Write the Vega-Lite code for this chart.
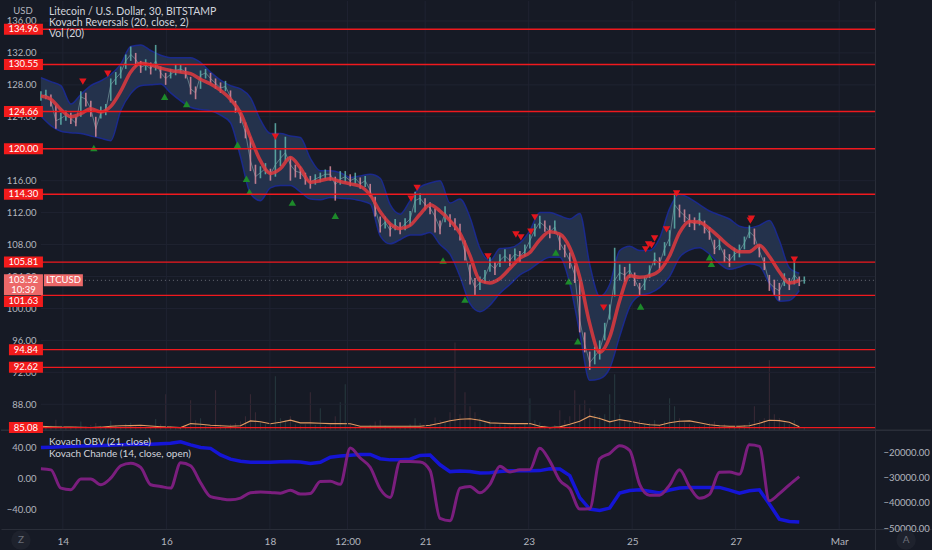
{
  "$schema": "https://vega.github.io/schema/vega-lite/v6.json",
  "width": 932,
  "height": 550,
  "autosize": {"type": "fit", "contains": "padding"},
  "padding": 0,
  "background": "#161a25",
  "config": {
    "view": {"stroke": null},
    "font": "Lato",
    "axis": {"labelFont": "Lato", "labelColor": "#b2b5be", "labelFontSize": 9.5, "domain": false, "ticks": false, "tickSize": 0, "grid": false, "minExtent": 0}
  },
  "datasets": {
    "candles": [
      {"d":13.576,"c":126.5,"lo":126.0,"hi":127.2,"u":1,"v":1500},
      {"d":13.672,"c":126.8,"lo":126.2,"hi":127.4,"u":1,"v":900},
      {"d":13.769,"c":126.0,"lo":125.3,"hi":126.8,"u":0,"v":1200},
      {"d":13.865,"c":123.5,"lo":122.5,"hi":125.5,"u":0,"v":2600},
      {"d":13.962,"c":123.8,"lo":123.0,"hi":124.5,"u":1,"v":1100},
      {"d":14.058,"c":124.2,"lo":123.5,"hi":124.8,"u":1,"v":800},
      {"d":14.154,"c":123.8,"lo":123.1,"hi":124.5,"u":0,"v":700},
      {"d":14.251,"c":123.2,"lo":122.8,"hi":124.0,"u":0,"v":900},
      {"d":14.347,"c":126.5,"lo":124.0,"hi":127.2,"u":1,"v":2200},
      {"d":14.444,"c":126.2,"lo":125.3,"hi":127.0,"u":0,"v":1000},
      {"d":14.540,"c":125.0,"lo":124.0,"hi":126.0,"u":0,"v":1300},
      {"d":14.636,"c":122.5,"lo":121.5,"hi":124.0,"u":0,"v":1800},
      {"d":14.733,"c":124.5,"lo":123.8,"hi":125.3,"u":1,"v":1100},
      {"d":14.829,"c":124.8,"lo":124.2,"hi":125.6,"u":1,"v":700},
      {"d":14.925,"c":128.0,"lo":126.0,"hi":128.8,"u":1,"v":2400},
      {"d":15.022,"c":128.8,"lo":128.0,"hi":129.6,"u":1,"v":1300},
      {"d":15.118,"c":129.5,"lo":128.8,"hi":130.3,"u":1,"v":1000},
      {"d":15.215,"c":131.0,"lo":130.0,"hi":131.8,"u":1,"v":1600},
      {"d":15.311,"c":131.8,"lo":131.0,"hi":132.8,"u":1,"v":1900},
      {"d":15.407,"c":131.2,"lo":130.3,"hi":132.0,"u":0,"v":1200},
      {"d":15.504,"c":130.2,"lo":129.5,"hi":131.0,"u":0,"v":1100},
      {"d":15.600,"c":130.5,"lo":129.8,"hi":131.2,"u":1,"v":800},
      {"d":15.697,"c":130.0,"lo":129.3,"hi":130.8,"u":0,"v":900},
      {"d":15.793,"c":131.0,"lo":129.8,"hi":133.0,"u":1,"v":2800},
      {"d":15.889,"c":129.5,"lo":128.8,"hi":130.3,"u":0,"v":1500},
      {"d":15.986,"c":128.8,"lo":128.0,"hi":129.5,"u":0,"v":9000},
      {"d":16.082,"c":129.3,"lo":128.8,"hi":130.0,"u":1,"v":1000},
      {"d":16.179,"c":129.8,"lo":129.2,"hi":130.5,"u":1,"v":800},
      {"d":16.275,"c":130.0,"lo":129.5,"hi":130.6,"u":1,"v":700},
      {"d":16.371,"c":129.6,"lo":128.8,"hi":130.2,"u":0,"v":1200},
      {"d":16.468,"c":127.5,"lo":126.8,"hi":129.0,"u":0,"v":7500},
      {"d":16.564,"c":127.0,"lo":126.2,"hi":127.8,"u":0,"v":2500},
      {"d":16.660,"c":129.2,"lo":127.5,"hi":129.8,"u":1,"v":3000},
      {"d":16.757,"c":129.5,"lo":128.8,"hi":130.0,"u":1,"v":1200},
      {"d":16.853,"c":128.8,"lo":128.2,"hi":129.5,"u":0,"v":1000},
      {"d":16.950,"c":128.2,"lo":127.5,"hi":128.8,"u":0,"v":10000},
      {"d":17.046,"c":127.6,"lo":127.0,"hi":128.3,"u":0,"v":1400},
      {"d":17.142,"c":127.8,"lo":127.2,"hi":128.5,"u":1,"v":900},
      {"d":17.239,"c":126.5,"lo":125.8,"hi":127.3,"u":0,"v":1500},
      {"d":17.335,"c":125.2,"lo":124.5,"hi":126.0,"u":0,"v":1800},
      {"d":17.432,"c":124.0,"lo":123.2,"hi":124.8,"u":0,"v":2200},
      {"d":17.528,"c":122.0,"lo":121.3,"hi":123.3,"u":0,"v":3500},
      {"d":17.624,"c":118.5,"lo":117.2,"hi":121.5,"u":0,"v":9000},
      {"d":17.721,"c":116.5,"lo":115.6,"hi":118.0,"u":0,"v":4500},
      {"d":17.817,"c":117.0,"lo":116.3,"hi":117.8,"u":1,"v":2000},
      {"d":17.914,"c":117.5,"lo":116.8,"hi":118.2,"u":1,"v":1500},
      {"d":18.010,"c":116.8,"lo":116.0,"hi":117.5,"u":0,"v":1800},
      {"d":18.106,"c":118.0,"lo":116.5,"hi":123.2,"u":1,"v":13500},
      {"d":18.203,"c":118.8,"lo":117.8,"hi":119.8,"u":1,"v":3000},
      {"d":18.299,"c":119.5,"lo":118.5,"hi":121.5,"u":1,"v":2500},
      {"d":18.396,"c":118.0,"lo":116.0,"hi":119.0,"u":0,"v":3500},
      {"d":18.492,"c":117.2,"lo":116.4,"hi":118.0,"u":0,"v":1500},
      {"d":18.588,"c":117.0,"lo":116.2,"hi":117.8,"u":0,"v":1200},
      {"d":18.685,"c":116.2,"lo":115.5,"hi":117.0,"u":0,"v":1500},
      {"d":18.781,"c":115.8,"lo":115.0,"hi":116.6,"u":0,"v":9500},
      {"d":18.877,"c":116.2,"lo":115.5,"hi":116.8,"u":1,"v":1300},
      {"d":18.974,"c":116.5,"lo":115.8,"hi":117.0,"u":1,"v":5500},
      {"d":19.070,"c":116.8,"lo":116.2,"hi":117.4,"u":1,"v":1100},
      {"d":19.167,"c":116.8,"lo":116.0,"hi":117.8,"u":0,"v":1400},
      {"d":19.263,"c":115.5,"lo":113.5,"hi":116.5,"u":0,"v":3500},
      {"d":19.359,"c":116.2,"lo":115.5,"hi":117.2,"u":1,"v":7000},
      {"d":19.456,"c":116.5,"lo":115.8,"hi":117.2,"u":1,"v":11500},
      {"d":19.552,"c":116.0,"lo":115.3,"hi":116.8,"u":0,"v":1500},
      {"d":19.649,"c":116.3,"lo":115.6,"hi":117.0,"u":1,"v":1000},
      {"d":19.745,"c":115.6,"lo":115.0,"hi":116.4,"u":0,"v":900},
      {"d":19.841,"c":116.0,"lo":115.2,"hi":116.6,"u":1,"v":800},
      {"d":19.938,"c":114.8,"lo":114.0,"hi":115.6,"u":0,"v":1400},
      {"d":20.034,"c":112.5,"lo":111.5,"hi":114.0,"u":0,"v":2200},
      {"d":20.131,"c":110.2,"lo":109.5,"hi":111.5,"u":0,"v":2500},
      {"d":20.227,"c":110.8,"lo":110.0,"hi":111.5,"u":1,"v":1200},
      {"d":20.323,"c":109.8,"lo":109.0,"hi":110.6,"u":0,"v":1000},
      {"d":20.420,"c":110.5,"lo":109.8,"hi":111.2,"u":1,"v":800},
      {"d":20.516,"c":110.0,"lo":109.3,"hi":110.8,"u":0,"v":700},
      {"d":20.612,"c":110.6,"lo":109.8,"hi":111.3,"u":1,"v":900},
      {"d":20.709,"c":111.2,"lo":110.3,"hi":112.2,"u":1,"v":1500},
      {"d":20.805,"c":113.5,"lo":112.0,"hi":114.6,"u":1,"v":3000},
      {"d":20.902,"c":113.8,"lo":113.0,"hi":114.4,"u":1,"v":1800},
      {"d":20.998,"c":113.0,"lo":112.3,"hi":113.8,"u":0,"v":1200},
      {"d":21.094,"c":112.6,"lo":111.8,"hi":113.3,"u":0,"v":1500},
      {"d":21.191,"c":111.5,"lo":109.5,"hi":112.5,"u":0,"v":3200},
      {"d":21.287,"c":110.0,"lo":109.3,"hi":111.0,"u":0,"v":2500},
      {"d":21.384,"c":112.0,"lo":110.8,"hi":112.8,"u":1,"v":2000},
      {"d":21.480,"c":111.0,"lo":110.2,"hi":111.8,"u":0,"v":4500},
      {"d":21.576,"c":110.5,"lo":109.8,"hi":111.3,"u":0,"v":22000},
      {"d":21.673,"c":109.5,"lo":108.5,"hi":110.6,"u":0,"v":4000},
      {"d":21.769,"c":107.0,"lo":106.0,"hi":108.5,"u":0,"v":9500},
      {"d":21.866,"c":104.2,"lo":103.0,"hi":105.5,"u":0,"v":6000},
      {"d":21.962,"c":102.6,"lo":101.6,"hi":103.8,"u":0,"v":4500},
      {"d":22.058,"c":103.2,"lo":102.3,"hi":104.0,"u":1,"v":3000},
      {"d":22.155,"c":104.0,"lo":103.2,"hi":104.8,"u":1,"v":2000},
      {"d":22.251,"c":105.5,"lo":104.6,"hi":106.4,"u":1,"v":2500},
      {"d":22.348,"c":105.0,"lo":104.2,"hi":105.8,"u":0,"v":1500},
      {"d":22.444,"c":106.0,"lo":105.2,"hi":106.8,"u":1,"v":1800},
      {"d":22.541,"c":106.6,"lo":105.8,"hi":107.4,"u":1,"v":1500},
      {"d":22.637,"c":106.0,"lo":105.3,"hi":106.8,"u":0,"v":1200},
      {"d":22.733,"c":106.8,"lo":106.0,"hi":107.5,"u":1,"v":1400},
      {"d":22.830,"c":106.5,"lo":105.8,"hi":107.2,"u":0,"v":1000},
      {"d":22.926,"c":107.2,"lo":106.5,"hi":108.0,"u":1,"v":1500},
      {"d":23.023,"c":108.5,"lo":107.5,"hi":109.3,"u":1,"v":8000},
      {"d":23.119,"c":109.8,"lo":109.0,"hi":110.6,"u":1,"v":2500},
      {"d":23.215,"c":110.8,"lo":110.0,"hi":111.6,"u":1,"v":2000},
      {"d":23.312,"c":110.3,"lo":109.6,"hi":111.0,"u":0,"v":1200},
      {"d":23.408,"c":109.6,"lo":108.8,"hi":110.4,"u":0,"v":1000},
      {"d":23.505,"c":110.2,"lo":109.4,"hi":111.0,"u":1,"v":1300},
      {"d":23.601,"c":108.2,"lo":107.3,"hi":109.2,"u":0,"v":5000},
      {"d":23.697,"c":107.2,"lo":106.4,"hi":108.0,"u":0,"v":2500},
      {"d":23.794,"c":106.0,"lo":105.0,"hi":107.0,"u":0,"v":3500},
      {"d":23.890,"c":104.2,"lo":103.2,"hi":105.4,"u":0,"v":10000},
      {"d":23.986,"c":98.5,"lo":97.0,"hi":103.5,"u":0,"v":6500},
      {"d":24.083,"c":95.5,"lo":94.5,"hi":97.0,"u":0,"v":7500},
      {"d":24.179,"c":93.2,"lo":92.3,"hi":94.6,"u":0,"v":5500},
      {"d":24.276,"c":94.0,"lo":93.0,"hi":95.2,"u":1,"v":4000},
      {"d":24.372,"c":94.8,"lo":93.6,"hi":96.0,"u":1,"v":3500},
      {"d":24.469,"c":97.0,"lo":96.0,"hi":98.2,"u":1,"v":4000},
      {"d":24.565,"c":99.5,"lo":98.6,"hi":100.5,"u":1,"v":9000},
      {"d":24.661,"c":103.5,"lo":101.5,"hi":107.6,"u":1,"v":14000},
      {"d":24.758,"c":104.5,"lo":103.5,"hi":105.5,"u":1,"v":4000},
      {"d":24.854,"c":104.2,"lo":103.3,"hi":105.2,"u":0,"v":2500},
      {"d":24.951,"c":104.8,"lo":103.8,"hi":105.6,"u":1,"v":2000},
      {"d":25.047,"c":103.6,"lo":102.8,"hi":104.5,"u":0,"v":1800},
      {"d":25.143,"c":102.3,"lo":101.6,"hi":103.2,"u":0,"v":2500},
      {"d":25.240,"c":103.2,"lo":102.3,"hi":104.0,"u":1,"v":1500},
      {"d":25.336,"c":104.6,"lo":103.8,"hi":105.4,"u":1,"v":1800},
      {"d":25.433,"c":106.2,"lo":105.4,"hi":107.0,"u":1,"v":2500},
      {"d":25.529,"c":105.6,"lo":104.8,"hi":106.4,"u":0,"v":1300},
      {"d":25.625,"c":107.5,"lo":106.6,"hi":108.3,"u":1,"v":2200},
      {"d":25.722,"c":108.8,"lo":107.8,"hi":109.8,"u":1,"v":8000},
      {"d":25.818,"c":113.0,"lo":110.0,"hi":114.4,"u":1,"v":6000},
      {"d":25.914,"c":112.2,"lo":111.4,"hi":113.0,"u":0,"v":3000},
      {"d":26.011,"c":111.6,"lo":110.8,"hi":112.4,"u":0,"v":2000},
      {"d":26.107,"c":111.0,"lo":110.2,"hi":111.8,"u":0,"v":1500},
      {"d":26.204,"c":110.6,"lo":109.8,"hi":111.4,"u":0,"v":1200},
      {"d":26.300,"c":111.2,"lo":110.4,"hi":112.0,"u":1,"v":1000},
      {"d":26.397,"c":110.2,"lo":109.4,"hi":111.0,"u":0,"v":1400},
      {"d":26.493,"c":109.4,"lo":108.6,"hi":110.2,"u":0,"v":1800},
      {"d":26.589,"c":107.4,"lo":106.8,"hi":108.6,"u":0,"v":2200},
      {"d":26.686,"c":108.0,"lo":107.3,"hi":108.8,"u":1,"v":1200},
      {"d":26.782,"c":106.6,"lo":105.8,"hi":107.4,"u":0,"v":1500},
      {"d":26.879,"c":106.0,"lo":105.2,"hi":106.8,"u":0,"v":1000},
      {"d":26.975,"c":106.8,"lo":106.0,"hi":107.6,"u":1,"v":900},
      {"d":27.071,"c":107.2,"lo":106.4,"hi":108.0,"u":1,"v":1100},
      {"d":27.168,"c":108.2,"lo":107.4,"hi":109.0,"u":1,"v":1300},
      {"d":27.264,"c":109.6,"lo":108.8,"hi":110.4,"u":1,"v":2000},
      {"d":27.361,"c":109.0,"lo":108.0,"hi":110.0,"u":0,"v":6000},
      {"d":27.457,"c":107.2,"lo":106.4,"hi":108.0,"u":0,"v":2500},
      {"d":27.553,"c":105.6,"lo":104.8,"hi":106.4,"u":0,"v":3000},
      {"d":27.650,"c":103.2,"lo":102.2,"hi":104.2,"u":0,"v":17500},
      {"d":27.746,"c":102.6,"lo":101.6,"hi":103.6,"u":0,"v":4000},
      {"d":27.843,"c":102.2,"lo":101.0,"hi":103.2,"u":0,"v":3000},
      {"d":27.939,"c":103.6,"lo":102.8,"hi":104.4,"u":1,"v":2000},
      {"d":28.035,"c":103.0,"lo":102.3,"hi":103.8,"u":0,"v":1500},
      {"d":28.132,"c":104.2,"lo":103.0,"hi":106.2,"u":1,"v":2500},
      {"d":28.228,"c":103.4,"lo":102.8,"hi":104.0,"u":0,"v":1000},
      {"d":28.325,"c":103.5,"lo":103.1,"hi":104.0,"u":1,"v":600}
    ],
    "ind": [
      {"d":13.576,"ma":126.6,"bu":128.9,"bl":124.1,"ch":12,"obv":-18150,"vm":1000},
      {"d":13.769,"ma":126.2,"bu":128.4,"bl":122.9,"ch":10.7,"obv":-18050,"vm":875},
      {"d":13.962,"ma":124.9,"bu":127.9,"bl":122.2,"ch":-13,"obv":-17900,"vm":750},
      {"d":14.154,"ma":124.0,"bu":125.6,"bl":122.0,"ch":-15,"obv":-17700,"vm":750},
      {"d":14.347,"ma":124.4,"bu":126.8,"bl":121.9,"ch":-1,"obv":-17600,"vm":700},
      {"d":14.540,"ma":125.0,"bu":127.9,"bl":121.6,"ch":-1,"obv":-17450,"vm":675},
      {"d":14.733,"ma":124.6,"bu":128.5,"bl":121.3,"ch":-8.6,"obv":-17366,"vm":750},
      {"d":14.925,"ma":125.3,"bu":129.3,"bl":121.0,"ch":0,"obv":-17250,"vm":1000},
      {"d":15.118,"ma":127.2,"bu":130.6,"bl":124.75,"ch":16,"obv":-17100,"vm":1125},
      {"d":15.311,"ma":129.6,"bu":132.8,"bl":126.9,"ch":19.4,"obv":-17000,"vm":1175},
      {"d":15.504,"ma":130.7,"bu":133.0,"bl":127.9,"ch":14,"obv":-16900,"vm":1250},
      {"d":15.697,"ma":130.5,"bu":132.3,"bl":128.0,"ch":-8.6,"obv":-16853,"vm":1050},
      {"d":15.889,"ma":130.1,"bu":131.7,"bl":128.1,"ch":-10.8,"obv":-16650,"vm":875},
      {"d":16.082,"ma":129.8,"bu":131.4,"bl":127.0,"ch":-12.9,"obv":-16459,"vm":750},
      {"d":16.275,"ma":129.6,"bu":131.4,"bl":126.0,"ch":20,"obv":-15900,"vm":675},
      {"d":16.468,"ma":129.4,"bu":131.4,"bl":125.2,"ch":16,"obv":-17130,"vm":1675},
      {"d":16.660,"ma":128.7,"bu":130.8,"bl":124.9,"ch":-6,"obv":-18156,"vm":1500},
      {"d":16.853,"ma":128.1,"bu":129.6,"bl":124.75,"ch":-24,"obv":-18500,"vm":1250},
      {"d":17.046,"ma":127.3,"bu":128.6,"bl":124.2,"ch":-26.5,"obv":-21078,"vm":1125},
      {"d":17.239,"ma":126.2,"bu":127.9,"bl":123.25,"ch":-28,"obv":-22775,"vm":1000},
      {"d":17.432,"ma":124.5,"bu":127.5,"bl":119.0,"ch":-25.8,"obv":-23600,"vm":1125},
      {"d":17.624,"ma":121.4,"bu":126.4,"bl":114.4,"ch":-19,"obv":-23960,"vm":2325},
      {"d":17.817,"ma":118.5,"bu":123.6,"bl":113.5,"ch":-18,"obv":-23960,"vm":2125},
      {"d":18.010,"ma":116.9,"bu":121.9,"bl":115.1,"ch":-18.5,"obv":-23950,"vm":1625},
      {"d":18.203,"ma":117.5,"bu":121.9,"bl":115.4,"ch":-19.5,"obv":-23800,"vm":2000},
      {"d":18.396,"ma":118.9,"bu":121.6,"bl":115.4,"ch":-15.5,"obv":-23700,"vm":2500},
      {"d":18.588,"ma":117.6,"bu":121.4,"bl":114.6,"ch":-20.6,"obv":-23900,"vm":1825},
      {"d":18.781,"ma":115.8,"bu":118.8,"bl":113.7,"ch":-19.8,"obv":-24500,"vm":1825},
      {"d":18.974,"ma":116.0,"bu":117.25,"bl":113.6,"ch":-4.3,"obv":-24000,"vm":1750},
      {"d":19.167,"ma":116.25,"bu":117.25,"bl":113.9,"ch":-4,"obv":-22000,"vm":1675},
      {"d":19.359,"ma":115.9,"bu":117.0,"bl":113.8,"ch":-8,"obv":-21500,"vm":1675},
      {"d":19.552,"ma":115.6,"bu":116.4,"bl":113.75,"ch":39,"obv":-21250,"vm":1625},
      {"d":19.745,"ma":115.3,"bu":116.6,"bl":113.5,"ch":26,"obv":-20950,"vm":1000},
      {"d":19.938,"ma":114.2,"bu":116.8,"bl":113.1,"ch":14,"obv":-20900,"vm":1000},
      {"d":20.131,"ma":112.1,"bu":116.3,"bl":109.1,"ch":-14,"obv":-22600,"vm":1000},
      {"d":20.323,"ma":110.6,"bu":113.0,"bl":108.1,"ch":-25,"obv":-23052,"vm":1000},
      {"d":20.516,"ma":110.0,"bu":111.8,"bl":108.6,"ch":21.5,"obv":-23052,"vm":1000},
      {"d":20.709,"ma":110.4,"bu":113.5,"bl":109.2,"ch":21.5,"obv":-22800,"vm":1000},
      {"d":20.902,"ma":111.8,"bu":115.2,"bl":109.2,"ch":21,"obv":-21315,"vm":1000},
      {"d":21.094,"ma":113.0,"bu":115.7,"bl":109.5,"ch":10,"obv":-21100,"vm":1250},
      {"d":21.287,"ma":112.2,"bu":116.0,"bl":108.0,"ch":-52,"obv":-25000,"vm":1750},
      {"d":21.480,"ma":111.0,"bu":113.2,"bl":106.8,"ch":-55,"obv":-27700,"vm":2375},
      {"d":21.673,"ma":109.4,"bu":113.7,"bl":104.0,"ch":-13,"obv":-27500,"vm":2750},
      {"d":21.866,"ma":106.6,"bu":111.4,"bl":100.6,"ch":-10.8,"obv":-27631,"vm":2875},
      {"d":22.058,"ma":103.5,"bu":107.5,"bl":99.6,"ch":-19,"obv":-28200,"vm":2500},
      {"d":22.251,"ma":103.2,"bu":106.0,"bl":100.4,"ch":-8,"obv":-28100,"vm":1825},
      {"d":22.444,"ma":103.75,"bu":107.5,"bl":101.9,"ch":15.5,"obv":-27700,"vm":1750},
      {"d":22.637,"ma":105.0,"bu":107.6,"bl":103.0,"ch":8,"obv":-27400,"vm":1675},
      {"d":22.830,"ma":106.3,"bu":108.2,"bl":104.2,"ch":10.7,"obv":-27394,"vm":1675},
      {"d":23.023,"ma":107.0,"bu":109.75,"bl":104.9,"ch":11,"obv":-27394,"vm":1675},
      {"d":23.215,"ma":108.6,"bu":112.0,"bl":105.8,"ch":38.7,"obv":-27300,"vm":1000},
      {"d":23.408,"ma":109.6,"bu":112.0,"bl":106.4,"ch":22,"obv":-26605,"vm":675},
      {"d":23.601,"ma":109.3,"bu":111.6,"bl":106.4,"ch":-3,"obv":-26700,"vm":825},
      {"d":23.794,"ma":107.6,"bu":111.2,"bl":103.1,"ch":-14,"obv":-29300,"vm":1500},
      {"d":23.986,"ma":103.9,"bu":111.9,"bl":97.0,"ch":-40,"obv":-38000,"vm":2250},
      {"d":24.179,"ma":98.1,"bu":105.5,"bl":91.0,"ch":-39.5,"obv":-42500,"vm":3500},
      {"d":24.372,"ma":94.5,"bu":101.5,"bl":91.2,"ch":25,"obv":-43100,"vm":2925},
      {"d":24.565,"ma":96.4,"bu":103.0,"bl":92.5,"ch":32,"obv":-42120,"vm":2075},
      {"d":24.758,"ma":101.0,"bu":107.25,"bl":96.5,"ch":42,"obv":-36200,"vm":2675},
      {"d":24.951,"ma":104.1,"bu":107.8,"bl":100.2,"ch":36,"obv":-35200,"vm":2250},
      {"d":25.143,"ma":103.9,"bu":107.25,"bl":101.6,"ch":-8,"obv":-34895,"vm":1750},
      {"d":25.336,"ma":104.1,"bu":107.25,"bl":101.9,"ch":-22,"obv":-35500,"vm":1375},
      {"d":25.529,"ma":104.75,"bu":108.8,"bl":102.6,"ch":-22,"obv":-36100,"vm":1250},
      {"d":25.722,"ma":106.6,"bu":112.5,"bl":104.0,"ch":-9,"obv":-35000,"vm":1875},
      {"d":25.914,"ma":109.5,"bu":114.3,"bl":106.4,"ch":10.7,"obv":-34200,"vm":2250},
      {"d":26.107,"ma":110.9,"bu":113.8,"bl":107.3,"ch":-11,"obv":-33950,"vm":2325},
      {"d":26.300,"ma":110.8,"bu":113.0,"bl":107.6,"ch":-26,"obv":-33948,"vm":1875},
      {"d":26.493,"ma":110.0,"bu":112.2,"bl":106.8,"ch":-21,"obv":-33948,"vm":1375},
      {"d":26.686,"ma":108.9,"bu":111.7,"bl":105.6,"ch":7.5,"obv":-33948,"vm":1125},
      {"d":26.879,"ma":107.8,"bu":111.2,"bl":104.9,"ch":8,"obv":-35000,"vm":1000},
      {"d":27.071,"ma":107.1,"bu":110.3,"bl":105.2,"ch":5,"obv":-36200,"vm":1000},
      {"d":27.264,"ma":107.1,"bu":110.1,"bl":105.6,"ch":43,"obv":-35300,"vm":1125},
      {"d":27.457,"ma":107.9,"bu":110.4,"bl":105.3,"ch":41,"obv":-34895,"vm":1750},
      {"d":27.650,"ma":106.5,"bu":111.0,"bl":103.1,"ch":-29.3,"obv":-40500,"vm":2500},
      {"d":27.843,"ma":104.6,"bu":108.5,"bl":100.9,"ch":-20,"obv":-46500,"vm":2425},
      {"d":28.035,"ma":103.2,"bu":105.1,"bl":101.0,"ch":-8.6,"obv":-47400,"vm":2000},
      {"d":28.228,"ma":103.5,"bu":104.4,"bl":102.25,"ch":2,"obv":-47647,"vm":875}
    ],
    "sig": [
      {"d":14.386,"p":128.4,"t":"dn"},{"d":14.868,"p":129.4,"t":"dn"},{"d":18.106,"p":121.5,"t":"dn"},
      {"d":20.728,"p":113.75,"t":"dn"},{"d":20.844,"p":115.1,"t":"dn"},{"d":22.213,"p":106.5,"t":"dn"},
      {"d":22.753,"p":109.25,"t":"dn"},{"d":22.849,"p":108.9,"t":"dn"},{"d":23.042,"p":109.6,"t":"dn"},
      {"d":23.119,"p":111.4,"t":"dn"},{"d":24.449,"p":100.1,"t":"dn"},{"d":25.259,"p":107.4,"t":"dn"},
      {"d":25.317,"p":108.0,"t":"dn"},{"d":25.374,"p":107.9,"t":"dn"},{"d":25.432,"p":108.75,"t":"dn"},
      {"d":25.664,"p":109.9,"t":"dn"},{"d":25.857,"p":114.4,"t":"dn"},{"d":27.283,"p":111.0,"t":"dn"},
      {"d":27.303,"p":111.25,"t":"dn"},{"d":28.132,"p":106.1,"t":"dn"},
      {"d":14.598,"p":120.1,"t":"up"},{"d":15.966,"p":126.5,"t":"up"},{"d":16.391,"p":125.6,"t":"up"},
      {"d":17.374,"p":120.5,"t":"up"},{"d":17.547,"p":116.25,"t":"up"},{"d":17.605,"p":114.6,"t":"up"},
      {"d":18.434,"p":113.25,"t":"up"},{"d":19.263,"p":111.6,"t":"up"},{"d":21.345,"p":106.0,"t":"up"},
      {"d":21.769,"p":101.1,"t":"up"},{"d":23.524,"p":107.0,"t":"up"},{"d":23.774,"p":103.4,"t":"up"},
      {"d":23.948,"p":95.9,"t":"up"},{"d":25.162,"p":100.25,"t":"up"},{"d":26.493,"p":106.4,"t":"up"},
      {"d":26.531,"p":105.6,"t":"up"}
    ],
    "levels": [
      {"p":134.96},{"p":130.55},{"p":124.66},{"p":120.00},{"p":114.30},
      {"p":105.81},{"p":101.63},{"p":94.84},{"p":92.62},{"p":85.08}
    ],
    "last": [{"p":103.52,"t":"10:39","s":"LTCUSD"}]
  },
  "resolve": {"scale": {"y": "independent"}},
  "layer": [
    {
      "layer": [
        {
          "data": {"name": "candles"},
          "mark": {"type": "rule", "strokeWidth": 1.1, "opacity": 0.75},
          "encoding": {
            "x": {"field": "d", "type": "quantitative", "scale": {"domain": [12.8047, 30.7728], "nice": false, "zero": false},
              "axis": {"orient": "bottom", "offset": -21, "values": [14,16,18,19.5,21,23,25,27,29], "labelExpr": "datum.value == 19.5 ? '12:00' : datum.value == 29 ? 'Mar' : format(datum.value, 'd')", "domain": true, "domainColor": "#2a2e39", "labelPadding": 7, "labelFontSize": 10, "title": null}},
            "y": {"field": "v", "type": "quantitative", "scale": {"domain": [-30000, 107500], "nice": false, "zero": false}, "axis": null},
            "y2": {"datum": 0},
            "color": {"condition": {"test": "datum.u == 1", "value": "#2b4245"}, "value": "#432e39"}
          }
        },
        {
          "data": {"name": "ind"},
          "mark": {"type": "line", "color": "#e39a62", "strokeWidth": 1.2},
          "encoding": {
            "x": {"field": "d", "type": "quantitative"},
            "y": {"field": "vm", "type": "quantitative", "axis": null}
          }
        }
      ]
    },
    {
      "layer": [
        {
          "data": {"values": [{"p":88},{"p":92},{"p":96},{"p":100},{"p":104},{"p":108},{"p":112},{"p":116},{"p":120},{"p":124},{"p":128},{"p":132},{"p":136}]},
          "mark": {"type": "rule", "color": "#1f2331", "strokeWidth": 1},
          "encoding": {
            "y": {"field": "p", "type": "quantitative", "scale": {"domain": [69.75, 138.5], "nice": false, "zero": false},
              "axis": {"orient": "left", "offset": -40, "values": [88,92,96,100,104,108,112,116,124,128,132,136], "format": ".2f", "labelPadding": 5, "title": null}},
            "x": {"datum": 13.576},
            "x2": {"datum": 29.693}
          }
        },
        {
          "data": {"values": [{"d":14},{"d":16},{"d":18},{"d":19.5},{"d":21},{"d":23},{"d":25},{"d":27},{"d":29}]},
          "mark": {"type": "rule", "color": "#1f2331", "strokeWidth": 1},
          "encoding": {
            "x": {"field": "d", "type": "quantitative"},
            "y": {"datum": 138.5},
            "y2": {"datum": 72.375}
          }
        },
        {
          "data": {"name": "ind"},
          "mark": {"type": "area", "color": "#25344e", "opacity": 0.95, "interpolate": "monotone"},
          "encoding": {
            "x": {"field": "d", "type": "quantitative"},
            "y": {"field": "bu", "type": "quantitative"},
            "y2": {"field": "bl"}
          }
        },
        {
          "data": {"name": "ind"},
          "mark": {"type": "line", "color": "#1b2a96", "strokeWidth": 1.5, "opacity": 0.9, "interpolate": "monotone"},
          "encoding": {
            "x": {"field": "d", "type": "quantitative"},
            "y": {"field": "bu", "type": "quantitative"}
          }
        },
        {
          "data": {"name": "ind"},
          "mark": {"type": "line", "color": "#1b2a96", "strokeWidth": 1.5, "opacity": 0.9, "interpolate": "monotone"},
          "encoding": {
            "x": {"field": "d", "type": "quantitative"},
            "y": {"field": "bl", "type": "quantitative"}
          }
        },
        {
          "data": {"name": "candles"},
          "mark": {"type": "line", "color": "#86a9ab", "strokeWidth": 1, "opacity": 0.6},
          "encoding": {
            "x": {"field": "d", "type": "quantitative"},
            "y": {"field": "c", "type": "quantitative"}
          }
        },
        {
          "data": {"name": "candles"},
          "mark": {"type": "rule", "strokeWidth": 1.6, "opacity": 0.85},
          "encoding": {
            "x": {"field": "d", "type": "quantitative"},
            "y": {"field": "lo", "type": "quantitative"},
            "y2": {"field": "hi"},
            "color": {"condition": {"test": "datum.u == 1", "value": "#5fb3ab"}, "value": "#d98b9c"}
          }
        },
        {
          "data": {"name": "ind"},
          "mark": {"type": "line", "color": "#e0393e", "strokeWidth": 3.5, "opacity": 0.85, "interpolate": "monotone"},
          "encoding": {
            "x": {"field": "d", "type": "quantitative"},
            "y": {"field": "ma", "type": "quantitative"}
          }
        },
        {
          "data": {"name": "sig"},
          "mark": {"type": "point", "filled": true, "size": 55, "opacity": 1},
          "encoding": {
            "x": {"field": "d", "type": "quantitative"},
            "y": {"field": "p", "type": "quantitative"},
            "shape": {"field": "t", "type": "nominal", "scale": {"domain": ["dn", "up"], "range": ["triangle-down", "triangle-up"]}, "legend": null},
            "color": {"condition": {"test": "datum.t == 'dn'", "value": "#e3161d"}, "value": "#1d8a2a"}
          }
        },
        {
          "data": {"name": "levels"},
          "mark": {"type": "rule", "color": "#f0191e", "strokeWidth": 1.3},
          "encoding": {
            "y": {"field": "p", "type": "quantitative"},
            "x": {"datum": 13.576},
            "x2": {"datum": 29.693}
          }
        },
        {
          "data": {"name": "last"},
          "mark": {"type": "rule", "color": "#8a8d96", "strokeWidth": 1, "strokeDash": [1, 3], "opacity": 0.7},
          "encoding": {
            "y": {"field": "p", "type": "quantitative"},
            "x": {"datum": 13.576},
            "x2": {"datum": 29.693}
          }
        },
        {
          "data": {"values": [{"p": 84.75}]},
          "mark": {"type": "rule", "color": "#2a2e39", "strokeWidth": 1.5},
          "encoding": {
            "y": {"field": "p", "type": "quantitative"},
            "x": {"datum": 12.8047},
            "x2": {"datum": 30.7728}
          }
        },
        {
          "data": {"name": "levels"},
          "transform": [{"filter": "datum.p >= 100 && datum.p != 101.63"}],
          "mark": {"type": "point", "shape": "M-0.975,-0.275H0.975V0.275H-0.975Z", "size": 1600, "filled": true, "opacity": 1, "color": "#f21b1b"},
          "encoding": {
            "y": {"field": "p", "type": "quantitative"},
            "x": {"datum": 13.2385}
          }
        },
        {
          "data": {"name": "levels"},
          "transform": [{"filter": "datum.p < 100"}],
          "mark": {"type": "point", "shape": "M-0.85,-0.275H0.85V0.275H-0.85Z", "size": 1600, "filled": true, "opacity": 1, "color": "#f21b1b"},
          "encoding": {
            "y": {"field": "p", "type": "quantitative"},
            "x": {"datum": 13.2867}
          }
        },
        {
          "data": {"name": "levels"},
          "transform": [{"filter": "datum.p == 101.63"}],
          "mark": {"type": "point", "shape": "M-0.975,-0.275H0.975V0.275H-0.975Z", "size": 1600, "filled": true, "opacity": 1, "color": "#f21b1b", "yOffset": 6},
          "encoding": {
            "y": {"field": "p", "type": "quantitative"},
            "x": {"datum": 13.2385}
          }
        },
        {
          "data": {"name": "levels"},
          "transform": [{"filter": "datum.p >= 100 && datum.p != 101.63"}],
          "mark": {"type": "text", "color": "#ffffff", "fontSize": 9.5, "align": "center", "baseline": "middle"},
          "encoding": {
            "y": {"field": "p", "type": "quantitative"},
            "x": {"datum": 13.2385},
            "text": {"field": "p", "type": "quantitative", "format": ".2f"}
          }
        },
        {
          "data": {"name": "levels"},
          "transform": [{"filter": "datum.p < 100"}],
          "mark": {"type": "text", "color": "#ffffff", "fontSize": 9.5, "align": "center", "baseline": "middle"},
          "encoding": {
            "y": {"field": "p", "type": "quantitative"},
            "x": {"datum": 13.2867},
            "text": {"field": "p", "type": "quantitative", "format": ".2f"}
          }
        },
        {
          "data": {"name": "levels"},
          "transform": [{"filter": "datum.p == 101.63"}],
          "mark": {"type": "text", "color": "#ffffff", "fontSize": 9.5, "align": "center", "baseline": "middle", "dy": 6},
          "encoding": {
            "y": {"field": "p", "type": "quantitative"},
            "x": {"datum": 13.2385},
            "text": {"field": "p", "type": "quantitative", "format": ".2f"}
          }
        },
        {
          "data": {"name": "last"},
          "mark": {"type": "point", "shape": "M-0.975,-0.3H0.975V0.75H-0.975Z", "size": 1600, "filled": true, "opacity": 1, "color": "#ec6868"},
          "encoding": {
            "y": {"field": "p", "type": "quantitative"},
            "x": {"datum": 13.2385}
          }
        },
        {
          "data": {"name": "last"},
          "mark": {"type": "point", "shape": "M-0.975,-0.3H0.975V0.3H-0.975Z", "size": 1600, "filled": true, "opacity": 1, "color": "#ec6868"},
          "encoding": {
            "y": {"field": "p", "type": "quantitative"},
            "x": {"datum": 14.01}
          }
        },
        {
          "data": {"name": "last"},
          "mark": {"type": "text", "color": "#ffffff", "fontSize": 9.5, "align": "center", "baseline": "middle"},
          "encoding": {
            "y": {"field": "p", "type": "quantitative"},
            "x": {"datum": 13.2385},
            "text": {"field": "p", "type": "quantitative", "format": ".2f"}
          }
        },
        {
          "data": {"name": "last"},
          "mark": {"type": "text", "color": "#ffffff", "fontSize": 9.5, "align": "center", "baseline": "middle", "dy": 10},
          "encoding": {
            "y": {"field": "p", "type": "quantitative"},
            "x": {"datum": 13.2385},
            "text": {"field": "t"}
          }
        },
        {
          "data": {"name": "last"},
          "mark": {"type": "text", "color": "#ffffff", "fontSize": 9.5, "align": "center", "baseline": "middle"},
          "encoding": {
            "y": {"field": "p", "type": "quantitative"},
            "x": {"datum": 14.01},
            "text": {"field": "s"}
          }
        },
        {
          "data": {"values": [{}]},
          "mark": {"type": "text", "color": "#d1d4dc", "fontSize": 10.5, "align": "left", "baseline": "top", "lineHeight": 11},
          "encoding": {
            "y": {"datum": 137.69},
            "x": {"datum": 13.73},
            "text": {"value": ["Litecoin / U.S. Dollar, 30, BITSTAMP", "Kovach Reversals (20, close, 2)", "Vol (20)"]}
          }
        },
        {
          "data": {"values": [{}]},
          "mark": {"type": "text", "color": "#b2b5be", "fontSize": 9.5, "align": "center", "baseline": "middle"},
          "encoding": {
            "y": {"datum": 137.25},
            "x": {"datum": 13.229},
            "text": {"value": "USD"}
          }
        },
        {
          "data": {"values": [{"d": 13.19, "k": "Z"}, {"d": 30.291, "k": "A"}]},
          "mark": {"type": "point", "filled": true, "size": 380, "opacity": 1, "color": "#1e222d", "shape": "circle"},
          "encoding": {
            "y": {"datum": 71.0},
            "x": {"field": "d", "type": "quantitative"}
          }
        },
        {
          "data": {"values": [{"d": 13.19, "k": "Z"}, {"d": 30.291, "k": "A"}]},
          "mark": {"type": "text", "color": "#6a6d78", "fontSize": 10, "align": "center", "baseline": "middle"},
          "encoding": {
            "y": {"datum": 71.0},
            "x": {"field": "d", "type": "quantitative"},
            "text": {"field": "k"}
          }
        }
      ]
    },
    {
      "data": {"name": "ind"},
      "mark": {"type": "line", "color": "#1515d6", "strokeWidth": 3.5},
      "encoding": {
        "x": {"field": "d", "type": "quantitative"},
        "y": {"field": "obv", "type": "quantitative", "scale": {"domain": [-58701, 158433], "nice": false, "zero": false},
          "axis": {"orient": "right", "offset": -56, "values": [-50000, -40000, -30000, -20000], "format": ".2f", "labelPadding": 8, "domain": true, "domainColor": "#2a2e39", "title": null}}
      }
    },
    {
      "layer": [
        {
          "data": {"name": "ind"},
          "mark": {"type": "line", "color": "#7b1e7e", "strokeWidth": 3, "interpolate": "monotone"},
          "encoding": {
            "x": {"field": "d", "type": "quantitative"},
            "y": {"field": "ch", "type": "quantitative", "scale": {"domain": [-92.9, 616.8], "nice": false, "zero": false},
              "axis": {"orient": "left", "offset": -40, "values": [-40, 0, 40], "format": ".2f", "labelPadding": 5, "title": null}}
          }
        },
        {
          "data": {"values": [{}]},
          "mark": {"type": "text", "color": "#d1d4dc", "fontSize": 10, "align": "left", "baseline": "top", "lineHeight": 12},
          "encoding": {
            "y": {"datum": 52.9},
            "x": {"datum": 13.73},
            "text": {"value": ["Kovach OBV (21, close)", "Kovach Chande (14, close, open)"]}
          }
        }
      ]
    }
  ]
}
